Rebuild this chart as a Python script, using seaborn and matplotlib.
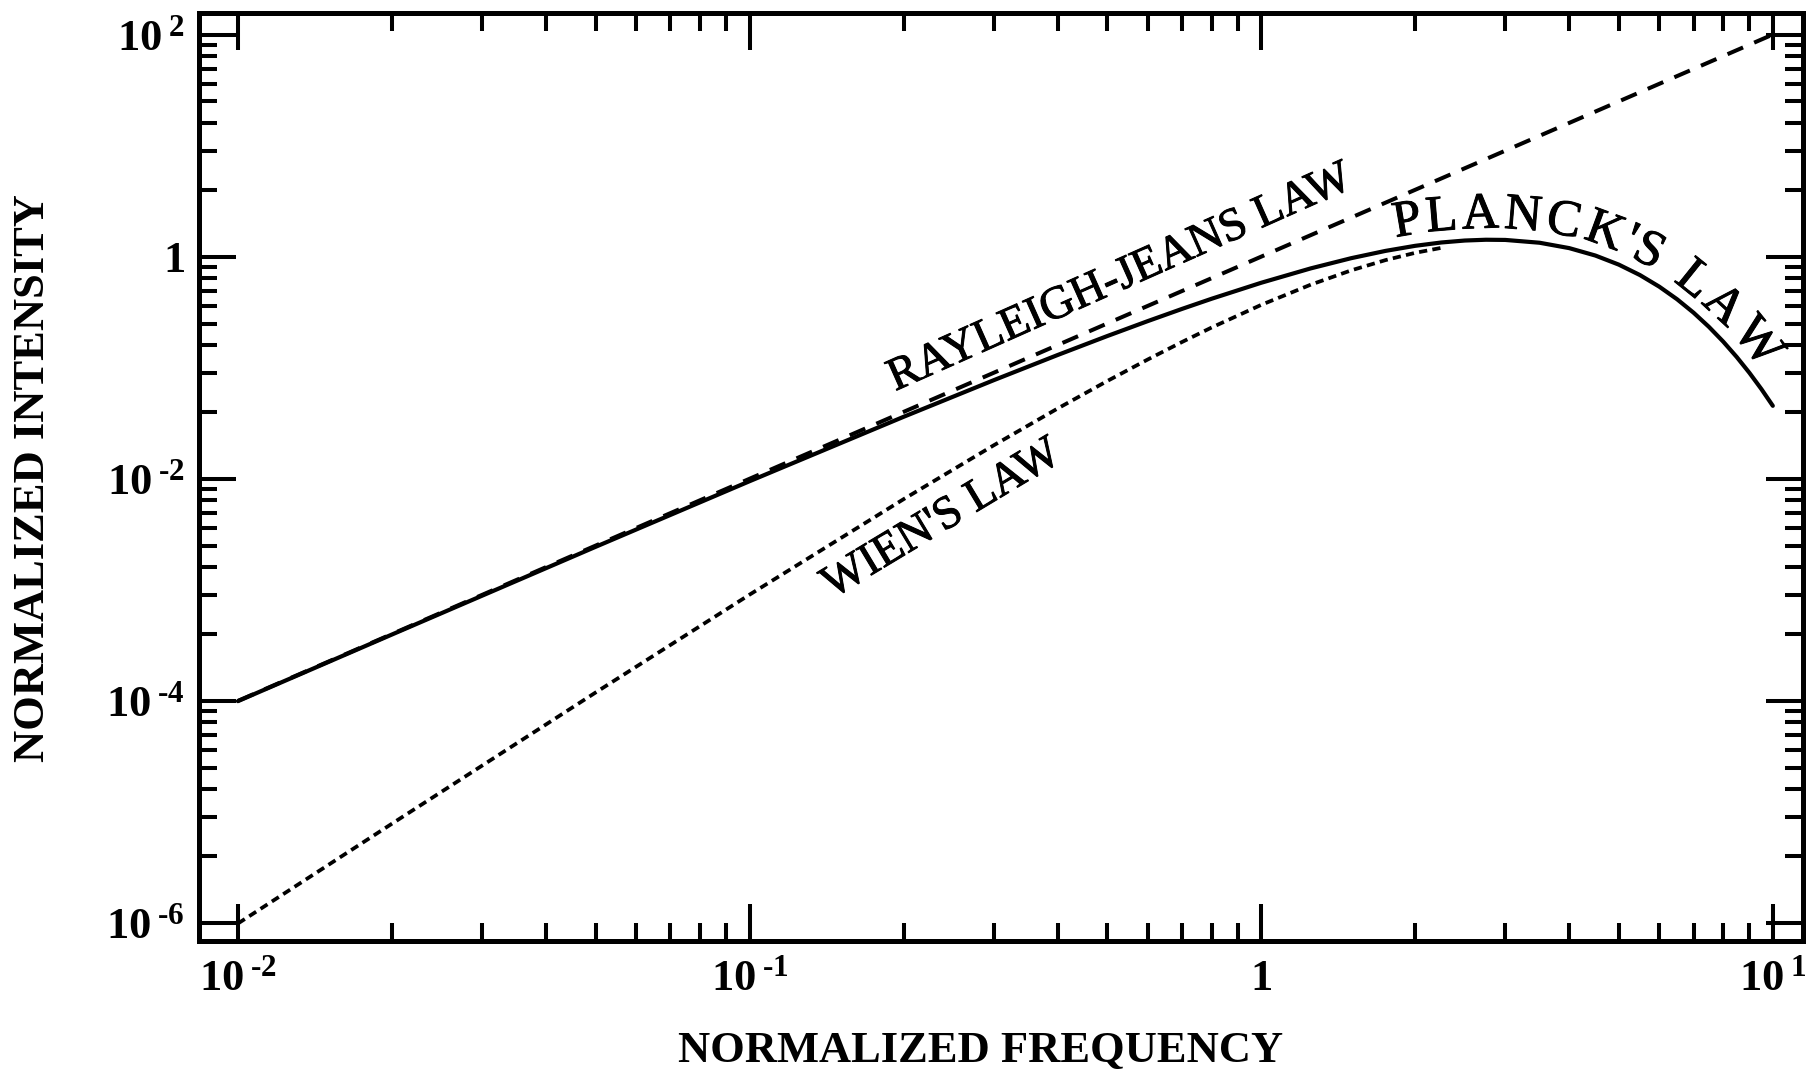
import numpy as np
import pandas as pd
import matplotlib
matplotlib.use('Agg')
import matplotlib.pyplot as plt
import matplotlib.patheffects as pe
import seaborn as sns
from matplotlib.ticker import FixedLocator, FixedFormatter, NullFormatter

# Curves (normalized frequency vs normalized intensity)
freq = [0.01, 0.02, 0.05, 0.1, 0.2, 0.3, 0.4, 0.5, 0.6, 0.7, 0.8, 1.0, 1.25, 1.5,
        1.75, 2.0, 2.25, 2.5, 2.75, 3.0, 3.5, 4.0, 4.5, 5.0, 5.5, 6.0, 6.5, 7.0,
        7.5, 8.0, 8.5, 9.0, 9.5, 10.0]
planck = [9.95e-5, 3.96e-4, 2.438e-3, 9.508e-3, 0.03613, 0.07717, 0.1301, 0.1927,
          0.2627, 0.3383, 0.4178, 0.5820, 0.7843, 0.9694, 1.1272, 1.2521, 1.3420,
          1.3973, 1.4203, 1.4147, 1.3350, 1.1941, 1.0237, 0.8480, 0.6827, 0.5367,
          0.4135, 0.3131, 0.2335, 0.1718, 0.1250, 0.0900, 0.0642, 0.0454]
wien_freq = [0.01, 0.02, 0.05, 0.1, 0.2, 0.3, 0.4, 0.5, 0.6, 0.7, 0.8, 1.0, 1.25,
             1.5, 1.75, 2.0, 2.25]
wien = [9.90e-7, 7.84e-6, 1.189e-4, 9.048e-4, 6.550e-3, 0.02000, 0.04290, 0.07582,
        0.1185, 0.1703, 0.2301, 0.3679, 0.5596, 0.7531, 0.9313, 1.0827, 1.2006]
rj_freq = [0.01, 0.03, 0.1, 0.3, 1.0, 3.0, 10.0]
rj = [1e-4, 9e-4, 0.01, 0.09, 1.0, 9.0, 100.0]

x_ticks = [1e-2, 1e-1, 1, 10]
x_ticklabels = [r'$10^{\;\text{-2}}$', r'$10^{\;\text{-1}}$', r'$1$', r'$10^{\;1}$']
y_ticks = [1e-6, 1e-4, 1e-2, 1, 1e2]
y_ticklabels = [r'$10^{\;\text{-6}}$', r'$10^{\;\text{-4}}$', r'$10^{\;\text{-2}}$',
                r'$1$', r'$10^{\;2}$']

sns.set_style('ticks')
plt.rcParams['font.family'] = ['Liberation Serif', 'DejaVu Serif']
plt.rcParams['mathtext.fontset'] = 'custom'
plt.rcParams['mathtext.rm'] = 'Liberation Serif:bold'
plt.rcParams['mathtext.it'] = 'Liberation Serif:italic:bold'
plt.rcParams['mathtext.bf'] = 'Liberation Serif:bold'
plt.rcParams['axes.linewidth'] = 3.6
plt.rcParams['axes.edgecolor'] = 'black'
plt.rcParams['text.color'] = 'black'
plt.rcParams['axes.labelcolor'] = 'black'
plt.rcParams['xtick.color'] = 'black'
plt.rcParams['ytick.color'] = 'black'

fig = plt.figure(figsize=(18.19, 10.74), dpi=100)
ax = fig.add_axes([0.1094, 0.1238, 0.8818, 0.8641])
ax.set_xscale('log')
ax.set_yscale('log')

planck_df = pd.DataFrame({'freq': freq, 'intensity': planck})
wien_df = pd.DataFrame({'freq': wien_freq, 'intensity': wien})
rj_df = pd.DataFrame({'freq': rj_freq, 'intensity': rj})

sns.lineplot(data=wien_df, x='freq', y='intensity', ax=ax, color='black',
             linewidth=2.7, linestyle=(0, (2.2, 1.4)), errorbar=None)
sns.lineplot(data=rj_df, x='freq', y='intensity', ax=ax, color='black',
             linewidth=2.9, linestyle=(0, (4.2, 3)), errorbar=None)
sns.lineplot(data=planck_df, x='freq', y='intensity', ax=ax, color='black',
             linewidth=3.0, errorbar=None)

ax.set_xlim(10 ** -2.076, 10 ** 1.059)
ax.set_ylim(10 ** -6.162, 10 ** 2.194)

# ticks: x decades with 2..9 minors; y every two decades, minors at n^2
x_minor = [m * s for m in x_ticks[:-1] for s in range(2, 10)]
y_minor = [m * n ** 2 for m in y_ticks[:-1] for n in range(2, 10)]
ax.xaxis.set_major_locator(FixedLocator(x_ticks))
ax.xaxis.set_minor_locator(FixedLocator(x_minor))
ax.yaxis.set_major_locator(FixedLocator(y_ticks))
ax.yaxis.set_minor_locator(FixedLocator(y_minor))
ax.xaxis.set_major_formatter(FixedFormatter(x_ticklabels))
ax.yaxis.set_major_formatter(FixedFormatter(y_ticklabels))
ax.xaxis.set_minor_formatter(NullFormatter())
ax.yaxis.set_minor_formatter(NullFormatter())
ax.tick_params(which='both', direction='in', top=True, right=True, width=2.9, color='black')
ax.tick_params(which='major', length=26.5, labelsize=32)
ax.tick_params(which='minor', length=13)
ax.tick_params(axis='x', which='major', pad=13)
ax.tick_params(axis='y', which='major', pad=10)

ax.set_xlabel('NORMALIZED FREQUENCY', fontsize=32, fontweight='bold', va='center')
ax.set_ylabel('NORMALIZED INTENSITY', fontsize=32, fontweight='bold', va='center')
ax.xaxis.set_label_coords(0.4875, -0.118)
ax.yaxis.set_label_coords(-0.1035, 0.499)

heavy = [pe.withStroke(linewidth=0.7, foreground='black')]

# straight labels
ax.text(0.53, 0.634, 'RAYLEIGH-JEANS LAW', fontsize=33.5, rotation=24,
        rotation_mode='anchor', ha='center', va='center', path_effects=heavy)
ax.text(0.2377, 0.00428, "WIEN'S LAW", fontsize=33.5, rotation=31,
        rotation_mode='anchor', ha='center', va='center', path_effects=heavy)

# curved label following the Planck curve
fig.canvas.draw()
renderer = fig.canvas.get_renderer()
label = "PLANCK'S LAW"
fs = 37
xs = np.logspace(np.log10(1.2), 1, 600)
ly = np.interp(np.log10(xs), np.log10(freq), np.log10(planck))
disp = ax.transData.transform(np.column_stack([xs, 10 ** ly]))
d = np.gradient(disp, axis=0)
tang = d / np.hypot(d[:, 0], d[:, 1])[:, None]
normal = np.column_stack([-tang[:, 1], tang[:, 0]])
path = disp + 12 * normal
s = np.concatenate([[0], np.cumsum(np.hypot(*np.diff(path, axis=0).T))])

widths = []
for ch in label:
    if ch == ' ':
        widths.append(0.3 * fs * 100 / 72)
    else:
        t = ax.text(1, 1, ch, fontsize=fs)
        widths.append(t.get_window_extent(renderer).width)
        t.remove()
widths = np.array(widths)
centers = np.cumsum(widths) - widths / 2
xa = ax.transData.transform((1.95, 1))[0]
xb = ax.transData.transform((8.9, 1))[0]
sa = np.interp(xa, path[:, 0], s)
sb = np.interp(xb, path[:, 0], s)
pos = sa + (centers - centers[0]) / (centers[-1] - centers[0]) * (sb - sa)
ang = np.degrees(np.arctan2(tang[:, 1], tang[:, 0]))
for ch, p in zip(label, pos):
    if ch == ' ':
        continue
    px = np.interp(p, s, path[:, 0])
    py = np.interp(p, s, path[:, 1])
    a = np.interp(p, s, ang)
    dx, dy = ax.transData.inverted().transform((px, py))
    ax.text(dx, dy, ch, fontsize=fs, rotation=a, rotation_mode='anchor',
            ha='center', va='baseline', path_effects=heavy)

fig.savefig('out.png', dpi=100)
plt.close()
